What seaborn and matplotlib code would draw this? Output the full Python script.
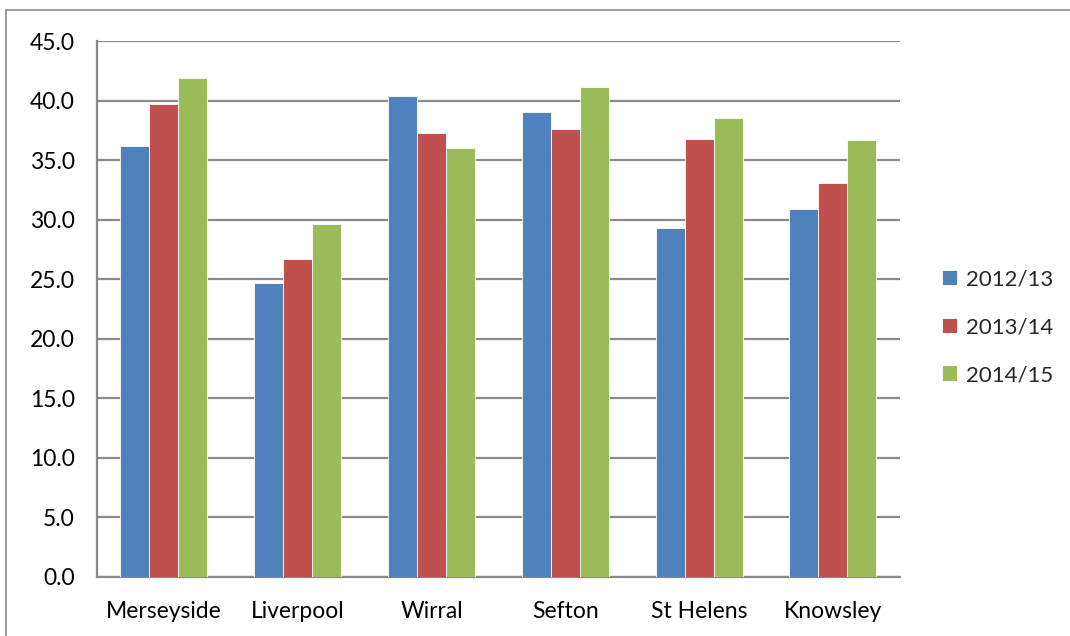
import pandas as pd
import matplotlib
matplotlib.use("Agg")
import matplotlib.pyplot as plt
import seaborn as sns
from matplotlib.patches import Rectangle

# values
areas = ["Merseyside", "Liverpool", "Wirral", "Sefton", "St Helens", "Knowsley"]
years = ["2012/13", "2013/14", "2014/15"]
v_2012 = [36.2, 24.7, 40.4, 39.0, 29.3, 30.9]
v_2013 = [39.7, 26.7, 37.3, 37.6, 36.8, 33.1]
v_2014 = [41.9, 29.6, 36.0, 41.1, 38.5, 36.7]

rows = []
for yr, vals in zip(years, [v_2012, v_2013, v_2014]):
    for a, v in zip(areas, vals):
        rows.append({"Area": a, "Year": yr, "Value": v})
df = pd.DataFrame(rows)

sns.set_style("white")
plt.rcParams["font.family"] = ["Lato", "DejaVu Sans"]

fig = plt.figure(figsize=(10.7, 6.36), dpi=100)
ax = fig.add_axes([0.0907, 0.0928, 0.7503, 0.8427])

# outer chart frame
fig.patches.append(Rectangle((0.006, -0.05), 1.1, 1.034, transform=fig.transFigure,
                             fill=False, edgecolor="#8c8c8c", linewidth=1.2))

sns.barplot(data=df, x="Area", y="Value", hue="Year", order=areas, hue_order=years,
            palette=["#4f81bd", "#c0504d", "#9bbb59"], width=0.65, saturation=1,
            edgecolor="white", linewidth=0.6, ax=ax, zorder=3)

ax.set_ylim(0, 45)
ax.set_yticks([i * 5 for i in range(10)])
ax.set_yticklabels([f"{i * 5:.1f}" for i in range(10)])
ax.yaxis.grid(True, color="#8a8a8a", linewidth=1.6, zorder=0)
ax.set_axisbelow(True)
ax.set_xlabel("")
ax.set_ylabel("")
for s in ["top", "right"]:
    ax.spines[s].set_visible(False)
for s in ["left", "bottom"]:
    ax.spines[s].set_color("#8a8a8a")
    ax.spines[s].set_linewidth(1.6)
ax.tick_params(axis="both", labelsize=16.5, length=0, colors="black")
ax.tick_params(axis="y", pad=16)
ax.tick_params(axis="x", pad=17)

leg = ax.legend(loc="center left", bbox_to_anchor=(1.027, 0.466), frameon=False,
                fontsize=16, handlelength=0.7, handleheight=0.7,
                labelspacing=1.25, handletextpad=0.4)

fig.savefig("out.png", dpi=100)
